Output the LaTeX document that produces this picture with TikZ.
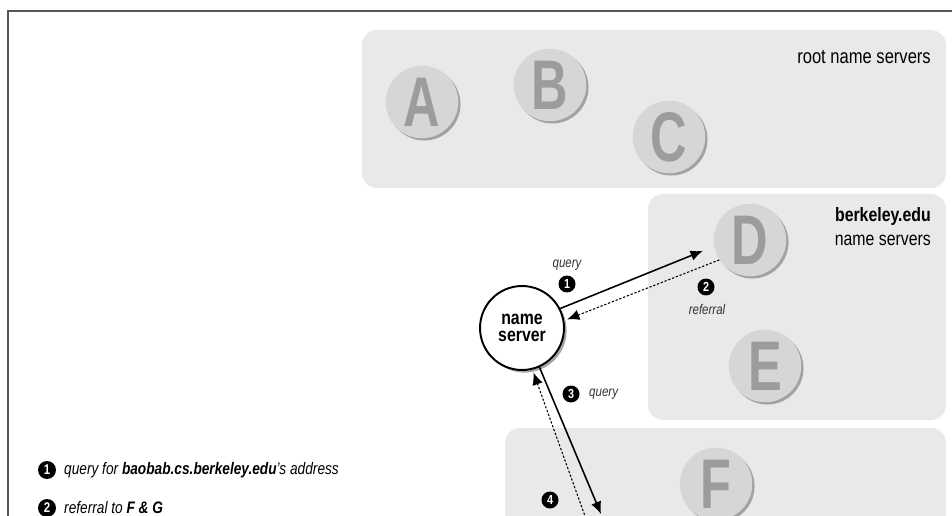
\documentclass[tikz,border=0pt]{standalone}
\usepackage{fontspec}
\setmainfont{Liberation Sans}[FakeStretch=0.82]
\newfontfamily\ballfont{Liberation Sans}[FakeStretch=0.72]
\usetikzlibrary{shadows, arrows.meta}
\definecolor{boxgray}{HTML}{E9E9E9}
\definecolor{ballgray}{HTML}{D6D6D6}
\definecolor{lettergray}{HTML}{9C9C9C}
\definecolor{framegray}{HTML}{555555}

\begin{document}
\begin{tikzpicture}[x=0.02cm, y=-0.02cm,
	zone/.style={fill=boxgray, rounded corners=0.3cm},
	ball/.style={circle, fill=ballgray, minimum size=1.45cm, inner sep=0pt, text=lettergray,
		font=\ballfont\bfseries\fontsize{40}{40}\selectfont,
		drop shadow={shadow xshift=1.3pt, shadow yshift=-1.3pt, opacity=0.3, fill=black}},
	nsnode/.style={circle, draw, line width=1.1pt, fill=white, minimum size=1.68cm, inner sep=0pt,
		align=center, font=\bfseries\fontsize{11}{9.8}\selectfont,
		drop shadow={shadow xshift=1.5pt, shadow yshift=-1.5pt, opacity=0.35, fill=black}},
	num/.style={circle, fill=black, text=white, inner sep=0pt, minimum size=0.34cm,
		font=\bfseries\fontsize{7.5}{7.5}\selectfont},
	lbl/.style={font=\itshape\fontsize{8}{9}\selectfont, text=black!80},
	msg/.style={line width=0.9pt, -{Latex[length=7pt, width=6pt]}},
	reply/.style={line width=0.6pt, dash pattern=on 1.3pt off 1pt, -{Latex[length=7pt, width=6pt]}}]
	\useasboundingbox (0,0) rectangle (952,516);
	\clip (0,0) rectangle (952,516);
	\draw[framegray, line width=1.2pt] (8,530) -- (8,11) -- (960,11);

	\fill[zone] (362,30) rectangle (946,188);
	\fill[zone] (648,194) rectangle (946,420);
	\fill[zone] (505,428) rectangle (946,560);

	\node[ball] (A) at (422,102) {A};
	\node[ball] (B) at (550,85) {B};
	\node[ball] (C) at (669,137) {C};
	\node[ball] (D) at (750,240) {D};
	\node[ball] (E) at (765,366) {E};
	\node[ball] (F) at (716,484) {F};
	\node[anchor=east, font=\fontsize{11.5}{13}\selectfont] (root) at (937,57) {root name servers};
	\node[anchor=north east, align=right, font=\fontsize{11}{14}\selectfont] (berk) at (937,201) {\textbf{berkeley.edu}\\name servers};

	\node[nsnode] (ns) at (522,328) {name\\server};
	\coordinate (g3) at (601,514);
	\coordinate (g4) at (590,530);

	\draw[msg, shorten >=0.24cm] (ns.27) -- (D.190);
	\draw[reply, shorten >=0.06cm] (D.213) -- (ns.10);
	\draw[msg] (ns.-66) -- (g3);
	\draw[reply, shorten >=0.06cm] (g4) -- (ns.-76);

	\node[lbl] (q1) at (567,265) {query};
	\node[num] (n1) at (567,284) {1};
	\node[num] (n2) at (706,287) {2};
	\node[lbl] (r2) at (707,309) {referral};
	\node[num] (n3) at (571,394) {3};
	\node[lbl, anchor=west] (q3) at (583,394) {query};
	\node[num] (n4) at (550,500) {4};

	\node[num, minimum size=0.36cm, font=\bfseries\fontsize{8}{8}\selectfont] (k1) at (47,470) {1};
	\node[anchor=west, font=\itshape\fontsize{9.5}{11}\selectfont] (t1) at (58,470) {query for \textbf{baobab.cs.berkeley.edu}'s address};
	\node[num, minimum size=0.36cm, font=\bfseries\fontsize{8}{8}\selectfont] (k2) at (47,508) {2};
	\node[anchor=west, font=\itshape\fontsize{9.5}{11}\selectfont] (t2) at (58,508) {referral to \textbf{F \& G}};
\end{tikzpicture}
\end{document}
